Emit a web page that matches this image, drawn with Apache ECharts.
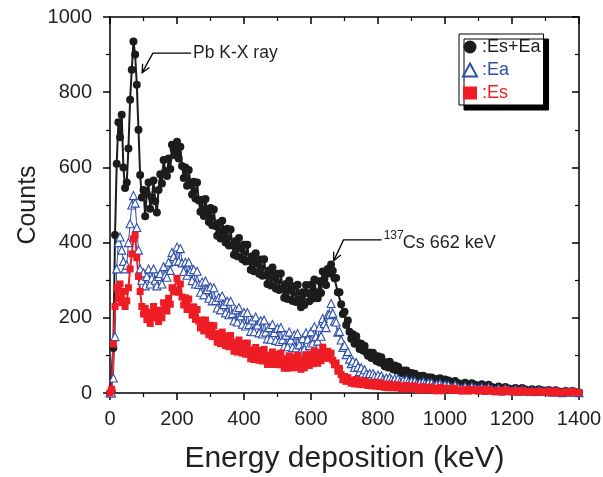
<!DOCTYPE html>
<html>
<head>
<meta charset="utf-8">
<script src="https://cdn.jsdelivr.net/npm/echarts@6/dist/echarts.min.js"></script>
<style>
    html, body { margin: 0; padding: 0; background: #fff; }
    #chart { width: 603px; height: 477px; }
</style>
</head>
<body>
<div id="chart"></div>
<script>
// energy bins (keV): 5 keV steps up to 1000, then 10 keV
var energy = [
    0, 5, 10, 15, 20, 25, 30, 35, 40, 45, 50, 55, 60, 65, 70, 75, 80, 85, 90, 95,
    100, 105, 110, 115, 120, 125, 130, 135, 140, 145,
    150, 155, 160, 165, 170, 175, 180, 185, 190, 195,
    200, 205, 210, 215, 220, 225, 230, 235, 240, 245,
    250, 255, 260, 265, 270, 275, 280, 285, 290, 295,
    300, 305, 310, 315, 320, 325, 330, 335, 340, 345,
    350, 355, 360, 365, 370, 375, 380, 385, 390, 395,
    400, 405, 410, 415, 420, 425, 430, 435, 440, 445,
    450, 455, 460, 465, 470, 475, 480, 485, 490, 495,
    500, 505, 510, 515, 520, 525, 530, 535, 540, 545,
    550, 555, 560, 565, 570, 575, 580, 585, 590, 595,
    600, 605, 610, 615, 620, 625, 630, 635, 640, 645,
    650, 655, 660, 665, 670, 675, 680, 685, 690, 695,
    700, 705, 710, 715, 720, 725, 730, 735, 740, 745,
    750, 755, 760, 765, 770, 775, 780, 785, 790, 795,
    800, 805, 810, 815, 820, 825, 830, 835, 840, 845,
    850, 855, 860, 865, 870, 875, 880, 885, 890, 895,
    900, 905, 910, 915, 920, 925, 930, 935, 940, 945,
    950, 955, 960, 965, 970, 975, 980, 985, 990, 995,
    1000,
    1010, 1020, 1030, 1040, 1050, 1060, 1070, 1080, 1090, 1100,
    1110, 1120, 1130, 1140, 1150, 1160, 1170, 1180, 1190, 1200,
    1210, 1220, 1230, 1240, 1250, 1260, 1270, 1280, 1290, 1300,
    1310, 1320, 1330, 1340, 1350, 1360, 1370, 1380, 1390, 1400];

// Es+Ea counts
var esEa = [
    0, 5, 120, 420, 610, 720, 680, 740, 600, 545, 560, 650, 780, 860, 935, 900, 820, 700, 580, 520,
    540, 470, 530, 560, 490, 520, 565, 510, 480, 540,
    582, 557, 620, 590, 577, 624, 596, 660, 649, 632,
    668, 624, 655, 604, 572, 600, 551, 593, 559, 528,
    562, 517, 560, 512, 482, 514, 471, 516, 484, 455,
    492, 446, 488, 444, 418, 452, 411, 458, 429, 400,
    437, 392, 435, 392, 368, 404, 364, 412, 384, 356,
    394, 350, 394, 352, 328, 364, 324, 372, 344, 317,
    355, 312, 356, 314, 290, 326, 286, 334, 306, 278,
    317, 274, 318, 277, 253, 290, 250, 299, 272, 245,
    284, 242, 288, 249, 228, 268, 234, 287, 266, 244,
    288, 251, 302, 268, 252, 297, 266, 323, 304, 287,
    330, 318, 342, 325, 305, 306, 268, 268, 236, 210,
    216, 181, 193, 163, 144, 156, 131, 151, 134, 117,
    131, 113, 125, 108, 99, 108, 93, 107, 96, 85,
    98, 81, 95, 79, 71, 82, 68, 83, 73, 63,
    73, 60, 70, 59, 53, 60, 49, 60, 52, 45,
    53, 43, 51, 42, 38, 45, 36, 46, 40, 34,
    42, 32, 41, 33, 29, 37, 28, 39, 33, 28,
    36,
    33, 27, 32, 26, 23, 27, 21, 26, 22, 19,
    23, 17, 22, 16, 13, 17, 11, 16, 12, 10,
    13, 9, 13, 9, 7, 10, 6, 10, 7, 6,
    8, 4, 7, 4, 2, 5, 2, 5, 2, 1];

// Ea counts
var ea = [
    0, 0, 40, 150, 330, 400, 415, 380, 350, 330, 340, 400, 450, 500, 525, 505, 440, 380, 330, 300,
    320, 285, 310, 330, 290, 305, 330, 300, 285, 310,
    318, 290, 336, 314, 308, 348, 326, 374, 363, 350,
    388, 351, 384, 346, 323, 348, 313, 348, 323, 299,
    328, 290, 324, 289, 268, 295, 261, 298, 275, 252,
    282, 245, 280, 246, 226, 254, 221, 258, 235, 213,
    244, 208, 244, 211, 192, 221, 189, 227, 205, 183,
    214, 178, 214, 182, 164, 194, 163, 202, 181, 160,
    192, 157, 194, 162, 144, 174, 143, 182, 161, 140,
    172, 137, 174, 142, 124, 154, 123, 162, 141, 121,
    154, 120, 158, 128, 112, 145, 117, 160, 143, 126,
    163, 133, 176, 150, 138, 175, 151, 198, 185, 174,
    208, 209, 238, 212, 191, 189, 162, 164, 141, 121,
    126, 102, 110, 90, 78, 85, 68, 81, 69, 57,
    67, 53, 62, 51, 45, 52, 41, 52, 45, 38,
    47, 37, 46, 37, 33, 40, 31, 41, 35, 30,
    38, 29, 38, 30, 26, 34, 25, 36, 30, 25,
    32, 25, 32, 25, 22, 28, 21, 30, 25, 21,
    27, 20, 27, 20, 17, 23, 16, 25, 20, 16,
    22,
    21, 15, 21, 15, 12, 17, 11, 17, 13, 11,
    15, 10, 15, 10, 7, 12, 6, 12, 8, 6,
    10, 5, 10, 6, 4, 7, 4, 7, 5, 4,
    7, 2, 6, 3, 1, 4, 2, 4, 2, 1];

// Es counts
var es = [
    0, 10, 130, 230, 280, 250, 290, 240, 270, 230, 245, 280, 330, 370, 410, 420, 360, 310, 270, 230,
    210, 225, 195, 215, 185, 210, 230, 200, 215, 190,
    220, 200, 240, 223, 218, 252, 236, 280, 274, 269,
    305, 268, 290, 255, 234, 253, 222, 250, 228, 207,
    229, 196, 222, 191, 173, 194, 165, 194, 174, 155,
    180, 150, 179, 151, 135, 158, 131, 162, 143, 126,
    152, 123, 153, 126, 111, 135, 109, 141, 123, 106,
    132, 103, 133, 106, 91, 115, 89, 121, 103, 87,
    113, 85, 116, 90, 76, 101, 76, 109, 92, 76,
    103, 75, 106, 80, 66, 91, 66, 99, 82, 67,
    95, 68, 100, 75, 63, 90, 67, 102, 87, 73,
    103, 78, 112, 89, 79, 108, 86, 122, 107, 92,
    111, 94, 106, 87, 75, 80, 58, 65, 49, 35,
    44, 31, 41, 31, 26, 34, 24, 36, 29, 23,
    32, 22, 32, 23, 20, 27, 19, 29, 24, 18,
    27, 17, 27, 18, 15, 22, 14, 24, 19, 14,
    21, 14, 22, 14, 12, 18, 11, 20, 16, 12,
    18, 11, 19, 11, 9, 15, 8, 17, 13, 9,
    15, 8, 16, 9, 6, 12, 6, 15, 11, 6,
    13,
    12, 7, 13, 7, 5, 10, 5, 10, 7, 5,
    10, 4, 10, 5, 3, 7, 2, 8, 5, 3,
    6, 2, 7, 3, 2, 4, 1, 5, 3, 2,
    5, 1, 5, 1, 0, 3, 1, 4, 2, 1];

var seriesNames = [':Es+Ea', ':Ea', ':Es'];

function pairs(ys) {
    return energy.map(function (e, i) { return [e, ys[i]]; });
}

var font = '"Liberation Sans", Arial, sans-serif';
var ink = '#231f20';
var black = '#1c1c1c', blue = '#2f4fa8', red = '#ee1c24';

function plain(v) { return String(v); }

function axisX(pos, showLabel, name) {
    return {
        type: 'value', position: pos, min: 0, max: 1400, interval: 200,
        name: name, nameLocation: 'middle', nameGap: 51, nameMoveOverlap: false,
        nameTextStyle: { fontSize: 30, color: ink, fontFamily: font },
        axisLine: { show: true, onZero: false, lineStyle: { color: '#000', width: 1.5 } },
        axisTick: { show: true, inside: !showLabel, length: 7, lineStyle: { color: '#000', width: 1.5 } },
        minorTick: { show: true, splitNumber: 2, length: 4, lineStyle: { color: '#000', width: 1.2 } },
        axisLabel: { show: showLabel, fontSize: 20, color: ink, margin: 16, fontFamily: font, formatter: plain },
        splitLine: { show: false }
    };
}

function axisY(pos, showLabel, name) {
    return {
        type: 'value', position: pos, min: 0, max: 1000, interval: 200,
        name: name, nameLocation: 'middle', nameGap: 69, nameMoveOverlap: false,
        nameTextStyle: { fontSize: 25, color: ink, fontFamily: font },
        axisLine: { show: true, onZero: false, lineStyle: { color: '#000', width: 1.5 } },
        axisTick: { show: true, inside: !showLabel, length: 7, lineStyle: { color: '#000', width: 1.5 } },
        minorTick: { show: true, splitNumber: 2, length: 4, lineStyle: { color: '#000', width: 1.2 } },
        axisLabel: { show: showLabel, fontSize: 20, color: ink, margin: 18, fontFamily: font, formatter: plain },
        splitLine: { show: false }
    };
}

var chart = echarts.init(document.getElementById('chart'));
chart.setOption({
    animation: false,
    grid: { left: 110, right: 24, top: 17, bottom: 84, outerBoundsMode: 'none', containLabel: false },
    xAxis: [axisX('bottom', true, 'Energy deposition (keV)'), axisX('top', false, '')],
    yAxis: [axisY('left', true, 'Counts'), axisY('right', false, '')],
    legend: {
        orient: 'vertical', left: 459, top: 34,
        padding: [4, 3, 3, 3], itemGap: 5, itemWidth: 14, itemHeight: 13,
        backgroundColor: '#fff', borderColor: '#000', borderWidth: 1,
        shadowColor: '#000', shadowBlur: 0, shadowOffsetX: 5, shadowOffsetY: 5,
        textStyle: { fontSize: 18, fontFamily: font },
        data: [
            { name: seriesNames[0], icon: 'circle', textStyle: { color: black } },
            { name: seriesNames[1], icon: 'triangle', textStyle: { color: blue } },
            { name: seriesNames[2], icon: 'rect', textStyle: { color: red } }
        ]
    },
    series: [
        {
            name: seriesNames[0], type: 'line', data: pairs(esEa),
            symbol: 'circle', symbolSize: 8, showAllSymbol: true,
            itemStyle: { color: black, borderWidth: 0 },
            lineStyle: { color: black, width: 2 }
        },
        {
            name: seriesNames[1], type: 'line', data: pairs(ea),
            symbol: 'triangle', symbolSize: 8, showAllSymbol: true,
            itemStyle: { color: '#fff', borderColor: blue, borderWidth: 1.1 },
            lineStyle: { color: blue, width: 1 }
        },
        {
            name: seriesNames[2], type: 'line', data: pairs(es),
            symbol: 'rect', symbolSize: 7, showAllSymbol: true,
            itemStyle: { color: red, borderWidth: 0 },
            lineStyle: { color: red, width: 2 }
        }
    ]
});

// annotation arrows, anchored in data coordinates: [text end, elbow, tip]
var pbArrow = [[242, 904], [128, 904], [96, 852]];
var csArrow = [[811, 407], [697, 407], [668, 352]];

function px(d) {
    return chart.convertToPixel({ xAxisIndex: 0, yAxisIndex: 0 }, d);
}

function arrow(pts) {
    var p = pts.map(px);
    var tip = p[2], prev = p[1];
    var ang = Math.atan2(prev[1] - tip[1], prev[0] - tip[0]);
    var len = 9, spread = 0.45;
    var h1 = [tip[0] + len * Math.cos(ang + spread), tip[1] + len * Math.sin(ang + spread)];
    var h2 = [tip[0] + len * Math.cos(ang - spread), tip[1] + len * Math.sin(ang - spread)];
    return [
        { type: 'polyline', z: 10, shape: { points: p }, style: { stroke: '#000', lineWidth: 1.3, fill: null } },
        { type: 'polyline', z: 10, shape: { points: [h1, tip, h2] }, style: { stroke: '#000', lineWidth: 1.3, fill: null } }
    ];
}

var pbEnd = px(pbArrow[0]);
var csEnd = px(csArrow[0]);
var graphics = arrow(pbArrow).concat(arrow(csArrow)).concat([
    { type: 'text', x: pbEnd[0] + 2, y: pbEnd[1],
      style: { text: 'Pb K-X ray', fontSize: 17.5, fontFamily: font, fill: ink, verticalAlign: 'middle' } },
    { type: 'text', x: csEnd[0] + 2, y: csEnd[1] - 4,
      style: { text: '137', fontSize: 12, fontFamily: font, fill: ink, verticalAlign: 'middle' } },
    { type: 'text', x: csEnd[0] + 21, y: csEnd[1] + 3,
      style: { text: 'Cs 662 keV', fontSize: 18, fontFamily: font, fill: ink, verticalAlign: 'middle' } }
]);
chart.setOption({ graphic: graphics });
</script>
</body>
</html>
